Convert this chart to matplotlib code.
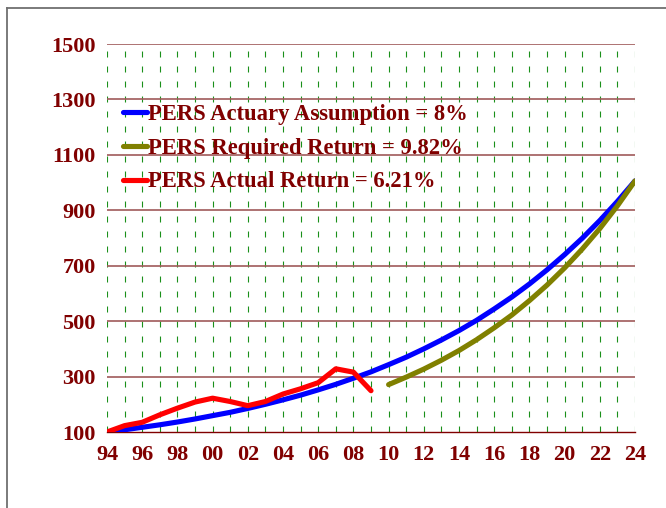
import matplotlib.pyplot as plt
from matplotlib.lines import Line2D

# years 1994..2024
years = list(range(1994, 2025))
xtick_years = list(range(1994, 2025, 2))
xtick_labels = ['94', '96', '98', '00', '02', '04', '06', '08', '10',
                '12', '14', '16', '18', '20', '22', '24']
yticks = [100, 300, 500, 700, 900, 1100, 1300, 1500]

# PERS actuary assumption, 8%
assumption = [100, 108, 117, 126, 136, 147, 159, 171, 185, 200, 216, 233,
              252, 272, 294, 317, 343, 370, 400, 432, 466, 503, 544, 587,
              634, 685, 740, 799, 863, 932, 1006]

# PERS required return, 9.82% (2010..2024)
req_years = list(range(2010, 2025))
required = [271, 298, 327, 359, 394, 433, 476, 522, 574, 630, 692, 760,
            834, 916, 1006]

# PERS actual return, 6.21% (1994..2009)
act_years = list(range(1994, 2010))
actual = [100, 123, 135, 162, 186, 208, 222, 210, 195, 210, 237, 256,
          278, 328, 316, 249]

dark_red = '#800000'
plt.rcParams['font.family'] = ['Liberation Serif', 'DejaVu Serif']

fig = plt.figure(figsize=(6.66, 5.08), dpi=100)
ax = fig.add_axes([107 / 666, 1 - 432 / 508, 528 / 666, 388 / 508])

# grid
lw_v = 0.8
for yr in years:
    ax.axvline(yr, color='#1a901a', lw=lw_v, zorder=1,
               linestyle=(0, (4.3 / lw_v, 6.5 / lw_v)))
for v in yticks[1:]:
    ax.axhline(v, color='#a05a5a', lw=1.2, zorder=1)

ax.plot(years, assumption, color='#0000ff', lw=3.7, zorder=3,
        label='PERS Actuary Assumption = 8%', solid_capstyle='round')
ax.plot(req_years, required, color='#808000', lw=3.7, zorder=3,
        label='PERS Required Return = 9.82%', solid_capstyle='round')
ax.plot(act_years, actual, color='#ff0000', lw=3.7, zorder=4,
        label='PERS Actual Return = 6.21%', solid_capstyle='round')

ax.set_xlim(1994, 2024)
ax.set_ylim(100, 1500)
ax.set_xticks(xtick_years)
ax.set_xticklabels(xtick_labels)
ax.set_yticks(yticks)
for s in ['top', 'right', 'left']:
    ax.spines[s].set_visible(False)
ax.spines['bottom'].set_color(dark_red)
ax.spines['bottom'].set_linewidth(1.0)
ax.tick_params(axis='x', length=0, pad=9, labelsize=16, labelcolor=dark_red)
ax.tick_params(axis='y', length=0, pad=8, labelsize=16, labelcolor=dark_red)
for lab in ax.get_xticklabels() + ax.get_yticklabels():
    lab.set_fontweight('bold')

leg = ax.legend(loc='upper left', bbox_to_anchor=(0.03, 0.845), frameon=False,
                prop={'size': 16.3, 'weight': 'bold'}, handlelength=1.05,
                handletextpad=0.05, labelspacing=0.56, borderpad=0,
                borderaxespad=0)
for t in leg.get_texts():
    t.set_color(dark_red)

# outer frame (left and top edges visible)
fig.add_artist(Line2D([6.5 / 666, 6.5 / 666], [0, 1 - 7.5 / 508],
                      color='#707070', lw=1.3))
fig.add_artist(Line2D([6.5 / 666, 1], [1 - 7.5 / 508, 1 - 7.5 / 508],
                      color='#707070', lw=1.3))

fig.savefig('out.png', dpi=100)
